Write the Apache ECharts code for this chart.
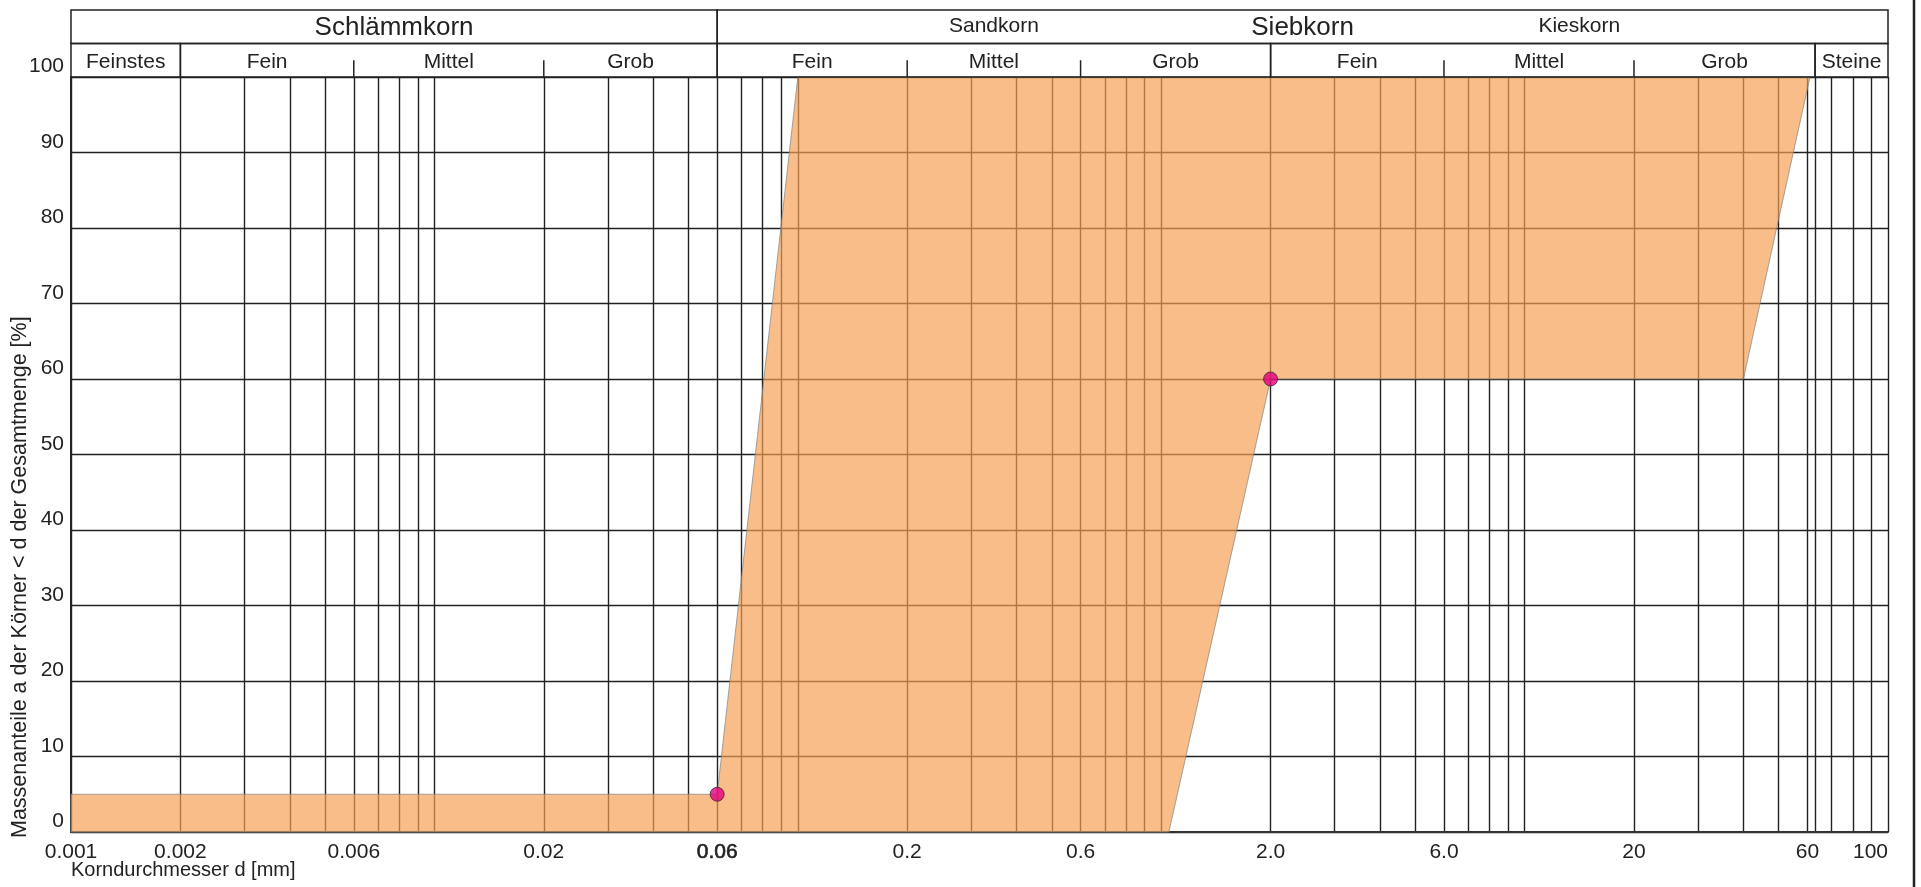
<!DOCTYPE html>
<html><head><meta charset="utf-8">
<script src="https://cdn.jsdelivr.net/npm/echarts@6/dist/echarts.min.js"></script>
<style>html,body{margin:0;padding:0;background:#fff}#c{width:1921px;height:887px}</style>
</head><body><div id="c"></div>
<script>
// ---- data ----
const gridValues = [0.001,0.002,0.003,0.004,0.005,0.006,0.007,0.008,0.009,
  0.01,0.02,0.03,0.04,0.05,0.06,0.07,0.08,0.09,
  0.1,0.2,0.3,0.4,0.5,0.6,0.7,0.8,0.9,
  1,2,3,4,5,6,7,8,9,
  10,20,30,40,50,60,63,70,80,90,100];
const xTickValues = [0.001,0.002,0.006,0.02,0.06,0.2,0.6,2,6,20,60,100];
const xTickLabels = ['0.001','0.002','0.006','0.02','0.06','0.2','0.6','2.0','6.0','20','60','100'];
const bandLowerBound = [[0.001,0],[1.05,0],[2.0,60],[40,60],[61,100]];
const bandUpperBound = [[0.001,5],[0.06,5],[0.1,100]];
const measuredPoints = [[0.06,5],[2.0,60]];
const mainFractions = [['Schlämmkorn',0.001,0.06],['Siebkorn',0.06,100]];
const subFractions = [['Sandkorn',0.06,2.0],['Kieskorn',2.0,100]];
const fractionBoxes = [[0.001,0.002],[0.002,0.06],[0.06,2.0],[2.0,63],[63,100]];
const fractionLabels = [['Feinstes',0.001,0.002],['Fein',0.002,0.006],['Mittel',0.006,0.02],['Grob',0.02,0.06],
  ['Fein',0.06,0.2],['Mittel',0.2,0.6],['Grob',0.6,2.0],['Fein',2.0,6.0],['Mittel',6.0,20],['Grob',20,63],['Steine',63,100]];
const fractionTicks = [0.006,0.02,0.2,0.6,6.0,20];
const xAxisName = 'Korndurchmesser d [mm]';
const yAxisName = 'Massenanteile a der Körner < d der Gesamtmenge [%]';

// ---- chart ----
const FONT = '"Liberation Sans", Arial, Helvetica, sans-serif';
const INK = '#222';
const bandPolygon = bandLowerBound.concat(bandUpperBound.slice().reverse());
const chart = echarts.init(document.getElementById('c'), null, {renderer:'canvas'});

function gm(a,b){ return Math.sqrt(a*b); }

const option = {
  animation:false,
  backgroundColor:'#fff',
  textStyle:{fontFamily:FONT},
  grid:[
    {left:71, right:33, top:77, bottom:55},
    {left:71, right:33, top:10, height:67}
  ],
  xAxis:[
    {type:'log', logBase:10, min:0.001, max:100, gridIndex:0,
     axisLine:{show:true, onZero:false, lineStyle:{color:'#333', width:2}},
     axisTick:{show:false, customValues:gridValues},
     splitLine:{show:true, lineStyle:{color:INK, width:1.4}},
     minorSplitLine:{show:false},
     axisLabel:{customValues:xTickValues, fontSize:21, color:INK, margin:10, fontFamily:FONT,
       alignMaxLabel:'right',
       formatter:function(v){
         const i = xTickValues.findIndex(t=>Math.abs(t-v)/t<1e-6);
         if(i<0) return '';
         return xTickValues[i]===0.06 ? '{b|'+xTickLabels[i]+'}' : xTickLabels[i];
       },
       rich:{b:{fontSize:21, color:INK, textBorderColor:INK, textBorderWidth:0.6, fontFamily:FONT}}}},
    {type:'log', logBase:10, min:0.001, max:100, gridIndex:1, show:false}
  ],
  yAxis:[
    {type:'value', min:0, max:100, interval:10, gridIndex:0,
     axisLine:{show:true, lineStyle:{color:INK, width:2}},
     axisTick:{show:false},
     splitLine:{show:true, lineStyle:{color:INK, width:1.4}},
     axisLabel:{fontSize:21, color:INK, margin:7, verticalAlign:'bottom', padding:[0,0,0,0], fontFamily:FONT}},
    {type:'value', min:0, max:2, gridIndex:1, show:false}
  ],
  series:[
    {type:'custom', xAxisIndex:0, yAxisIndex:0, z:3, data:bandPolygon, silent:true,
     renderItem:function(params, api){
       if(params.dataIndex!==0) return null;
       const pts = bandPolygon.map(p=>api.coord(p));
       return {type:'polygon', shape:{points:pts},
         style:{fill:'rgba(245,157,79,0.68)', stroke:'rgba(130,130,130,0.7)', lineWidth:1}};
     }},
    {type:'scatter', xAxisIndex:0, yAxisIndex:0, z:5, data:measuredPoints, symbol:'circle', symbolSize:14,
     itemStyle:{color:'#E5007D', borderColor:'#3a2a30', borderWidth:1}},
    // header: main fractions (row 1)
    {type:'custom', xAxisIndex:1, yAxisIndex:1, z:4, silent:true,
     data:mainFractions.map(d=>[d[1],d[2]]),
     renderItem:function(params, api){
       const d = mainFractions[params.dataIndex];
       const p0 = api.coord([d[1],2]), p1 = api.coord([d[2],1]);
       const c = api.coord([gm(d[1],d[2]),1.5]);
       return {type:'group', children:[
         {type:'rect', shape:{x:p0[0], y:p0[1], width:p1[0]-p0[0], height:p1[1]-p0[1]},
          style:{fill:'none', stroke:INK, lineWidth:1.5}},
         {type:'text', x:c[0], y:c[1]+1, style:{text:d[0], font:'26px '+FONT, fill:INK, align:'center', verticalAlign:'middle'}}
       ]};
     }},
    // header: Sand / Kies sub labels
    {type:'custom', xAxisIndex:1, yAxisIndex:1, z:4, silent:true,
     data:subFractions.map(d=>[d[1],d[2]]),
     renderItem:function(params, api){
       const d = subFractions[params.dataIndex];
       const c = api.coord([gm(d[1],d[2]),1.5]);
       return {type:'text', x:c[0], y:c[1]-1, style:{text:d[0], font:'21px '+FONT, fill:INK, align:'center', verticalAlign:'middle'}};
     }},
    // header: fraction boxes (row 2)
    {type:'custom', xAxisIndex:1, yAxisIndex:1, z:4, silent:true,
     data:fractionBoxes,
     renderItem:function(params, api){
       const d = fractionBoxes[params.dataIndex];
       const p0 = api.coord([d[0],1]), p1 = api.coord([d[1],0]);
       return {type:'rect', shape:{x:p0[0], y:p0[1], width:p1[0]-p0[0], height:p1[1]-p0[1]},
          style:{fill:'none', stroke:INK, lineWidth:1.5}};
     }},
    // header: fraction labels
    {type:'custom', xAxisIndex:1, yAxisIndex:1, z:4, silent:true,
     data:fractionLabels.map(d=>[d[1],d[2]]),
     renderItem:function(params, api){
       const d = fractionLabels[params.dataIndex];
       const c = api.coord([gm(d[1],d[2]),0.5]);
       return {type:'text', x:c[0], y:c[1]+2, style:{text:d[0], font:'21px '+FONT, fill:INK, align:'center', verticalAlign:'middle'}};
     }},
    // header: fraction ticks
    {type:'custom', xAxisIndex:1, yAxisIndex:1, z:4, silent:true,
     data:fractionTicks.map(v=>[v,0]),
     renderItem:function(params, api){
       const v = fractionTicks[params.dataIndex];
       const a = api.coord([v,0]), b = api.coord([v,0.5]);
       return {type:'line', shape:{x1:a[0], y1:a[1], x2:b[0], y2:b[1]}, style:{stroke:INK, lineWidth:1.5}};
     }}
  ],
  graphic:[
    {type:'line', shape:{x1:1914, y1:0, x2:1914, y2:887}, style:{stroke:INK, lineWidth:2.5}},
    {type:'text', x:71, y:870, style:{text:xAxisName, font:'20px '+FONT, fill:INK, align:'left', verticalAlign:'middle'}},
    {type:'text', x:20, y:838, rotation:Math.PI/2, style:{text:yAxisName, font:'21.5px '+FONT, fill:INK, align:'left', verticalAlign:'middle'}}
  ]
};
chart.setOption(option);
</script>
</body></html>
